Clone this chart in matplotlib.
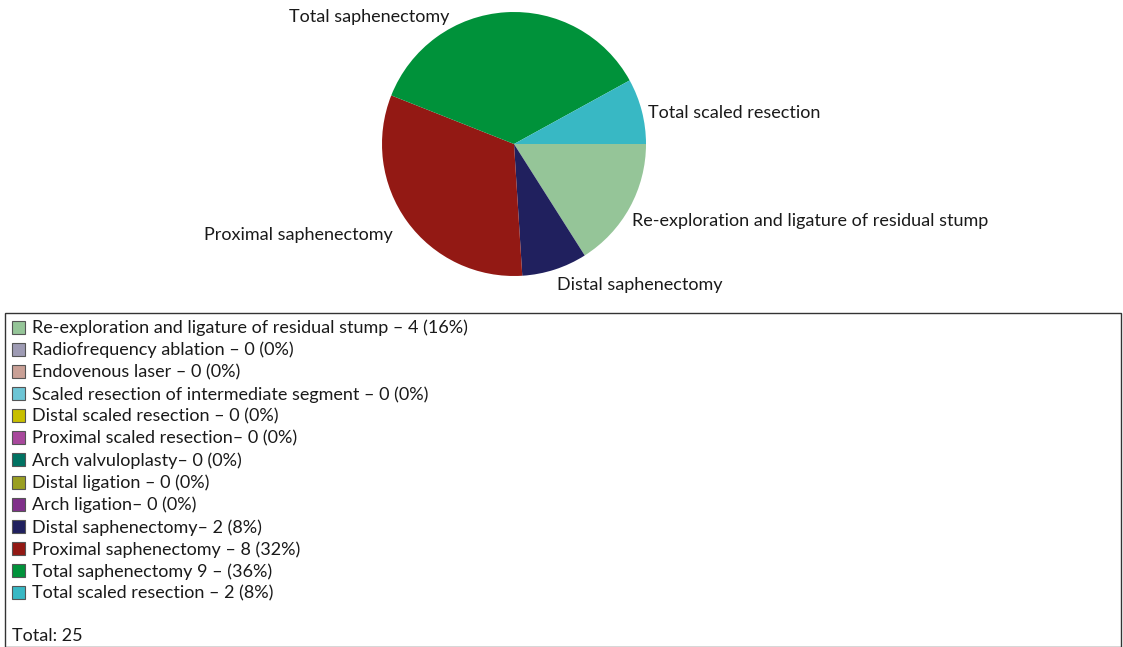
import matplotlib
matplotlib.use("Agg")
import matplotlib.pyplot as plt
from matplotlib.patches import Rectangle

plt.rcParams['font.family'] = ['Lato', 'DejaVu Sans']

# data, in legend order
categories = [
    "Re-exploration and ligature of residual stump",
    "Radiofrequency ablation",
    "Endovenous laser",
    "Scaled resection of intermediate segment",
    "Distal scaled resection",
    "Proximal scaled resection",
    "Arch valvuloplasty",
    "Distal ligation",
    "Arch ligation",
    "Distal saphenectomy",
    "Proximal saphenectomy",
    "Total saphenectomy",
    "Total scaled resection",
]
counts = [4, 0, 0, 0, 0, 0, 0, 0, 0, 2, 8, 9, 2]
legend_labels = [
    "Re-exploration and ligature of residual stump \u2013 4 (16%)",
    "Radiofrequency ablation \u2013 0 (0%)",
    "Endovenous laser \u2013 0 (0%)",
    "Scaled resection of intermediate segment \u2013 0 (0%)",
    "Distal scaled resection \u2013 0 (0%)",
    "Proximal scaled resection\u2013 0 (0%)",
    "Arch valvuloplasty\u2013 0 (0%)",
    "Distal ligation \u2013 0 (0%)",
    "Arch ligation\u2013 0 (0%)",
    "Distal saphenectomy\u2013 2 (8%)",
    "Proximal saphenectomy \u2013 8 (32%)",
    "Total saphenectomy 9 \u2013 (36%)",
    "Total scaled resection \u2013 2 (8%)",
]
colors = ["#95c598", "#9e9bb4", "#c9a096", "#6dc5d5", "#c8bf00", "#a8489c",
          "#007262", "#9a9f22", "#80308a", "#20205e", "#931914", "#00923a", "#38b8c4"]

W, H = 1123, 647
FS = 13
fig = plt.figure(figsize=(W / 100, H / 100), dpi=100)

# pie
cx, cy, r = 514, 144, 132
ax = fig.add_axes([(cx - r) / W, (H - cy - r) / H, 2 * r / W, 2 * r / H])
nz = [i for i, c in enumerate(counts) if c > 0]
ax.pie([counts[i] for i in nz], colors=[colors[i] for i in nz],
       startangle=0, counterclock=False, radius=1,
       wedgeprops=dict(linewidth=0))
ax.set_xlim(-1, 1)
ax.set_ylim(-1, 1)
ax.set_aspect('equal')

# slice labels (pixel positions, anchor)
label_pos = {
    "Total saphenectomy": (369, 17, 'center'),
    "Total scaled resection": (648, 113, 'left'),
    "Re-exploration and ligature of residual stump": (632, 221, 'left'),
    "Proximal saphenectomy": (393, 235, 'right'),
    "Distal saphenectomy": (557, 285, 'left'),
}
for name, (px, py, ha) in label_pos.items():
    fig.text(px / W, 1 - py / H, name, ha=ha, va='center', fontsize=FS, color='#1a1a1a')

# legend box
fig.patches.append(Rectangle((5 / W, 0), (1121 - 5) / W, 1 - 313 / H,
                             transform=fig.transFigure, fill=False,
                             edgecolor='#333333', linewidth=1))
row0, step = 327, 22.15
for i, (lab, col) in enumerate(zip(legend_labels, colors)):
    y = row0 + i * step
    fig.patches.append(Rectangle((12 / W, 1 - (y + 6.5) / H), 13 / W, 13 / H,
                                 transform=fig.transFigure, facecolor=col,
                                 edgecolor='#555555', linewidth=0.8))
    fig.text(32 / W, 1 - (y + 1) / H, lab, ha='left', va='center', fontsize=FS, color='#1a1a1a')
fig.text(12 / W, 1 - 636 / H, "Total: %d" % sum(counts), ha='left', va='center',
         fontsize=FS, color='#1a1a1a')

fig.savefig("out.png", dpi=100)
